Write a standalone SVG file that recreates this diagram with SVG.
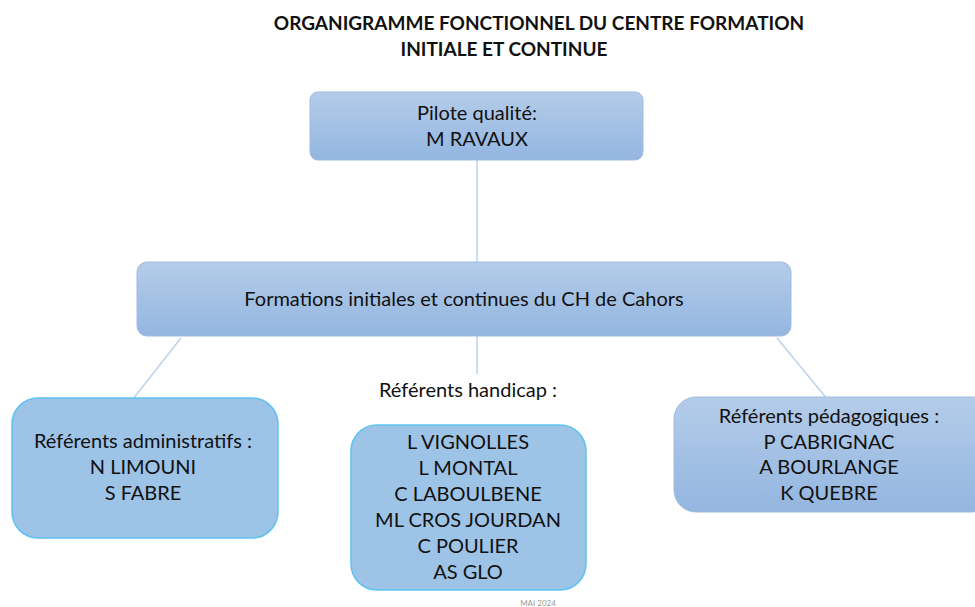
<svg xmlns="http://www.w3.org/2000/svg" width="975" height="607" viewBox="0 0 975 607">
<defs>
<linearGradient id="g" x1="0" y1="0" x2="0" y2="1">
<stop offset="0" stop-color="#b4cce9"/>
<stop offset="1" stop-color="#93b6e0"/>
</linearGradient>
<style>
text{font-family:Lato,"Liberation Sans",Arial,sans-serif;fill:#111;text-anchor:middle}
.t{font-size:19px;font-weight:bold}
.n{font-size:20px}
.grad{fill:url(#g);stroke:#9fbbe0;stroke-width:1}
.flat{fill:#9dc3e6;stroke:#5ec3ee;stroke-width:1.5}
.c{stroke:#bcd3ec;stroke-width:1.5;fill:none}
</style>
</defs>
<rect width="975" height="607" fill="#fff"/>
<g id="title">
<text class="t" x="539" y="30">ORGANIGRAMME FONCTIONNEL DU CENTRE FORMATION</text>
<text class="t" x="504" y="56">INITIALE ET CONTINUE</text>
</g>
<g id="connectors">
<line class="c" x1="477" y1="160" x2="477" y2="263"/>
<line class="c" x1="477" y1="336" x2="477" y2="374"/>
<line class="c" x1="181" y1="338" x2="133" y2="399"/>
<line class="c" x1="777" y1="338" x2="828" y2="400"/>
</g>
<g id="pilote">
<rect class="grad" x="310" y="92" width="333" height="68" rx="8"/>
<text class="n" x="477" y="120">Pilote qualité:</text>
<text class="n" x="477" y="146">M RAVAUX</text>
</g>
<g id="formations">
<rect class="grad" x="137" y="262" width="654" height="74" rx="10"/>
<text class="n" x="464" y="306">Formations initiales et continues du CH de Cahors</text>
</g>
<g id="handicap-label">
<text class="n" x="468" y="397">Référents handicap :</text>
</g>
<g id="administratifs">
<rect class="flat" x="12" y="398" width="266" height="140" rx="26"/>
<text class="n" x="143" y="448">Référents administratifs :</text>
<text class="n" x="143" y="474">N LIMOUNI</text>
<text class="n" x="143" y="500">S FABRE</text>
</g>
<g id="handicap">
<rect class="flat" x="351" y="425" width="235" height="165" rx="26"/>
<text class="n" x="468" y="449">L VIGNOLLES</text>
<text class="n" x="468" y="475">L MONTAL</text>
<text class="n" x="468" y="501">C LABOULBENE</text>
<text class="n" x="468" y="527">ML CROS JOURDAN</text>
<text class="n" x="468" y="553">C POULIER</text>
<text class="n" x="468" y="579">AS GLO</text>
</g>
<g id="pedagogiques">
<rect class="grad" x="674" y="397" width="320" height="115" rx="22"/>
<text class="n" x="829" y="423">Référents pédagogiques :</text>
<text class="n" x="829" y="449">P CABRIGNAC</text>
<text class="n" x="829" y="474">A BOURLANGE</text>
<text class="n" x="829" y="500">K QUEBRE</text>
</g>
<g id="date">
<text x="538" y="606" style="font-size:8px;fill:#9a9a9a">MAI 2024</text>
</g>
</svg>
